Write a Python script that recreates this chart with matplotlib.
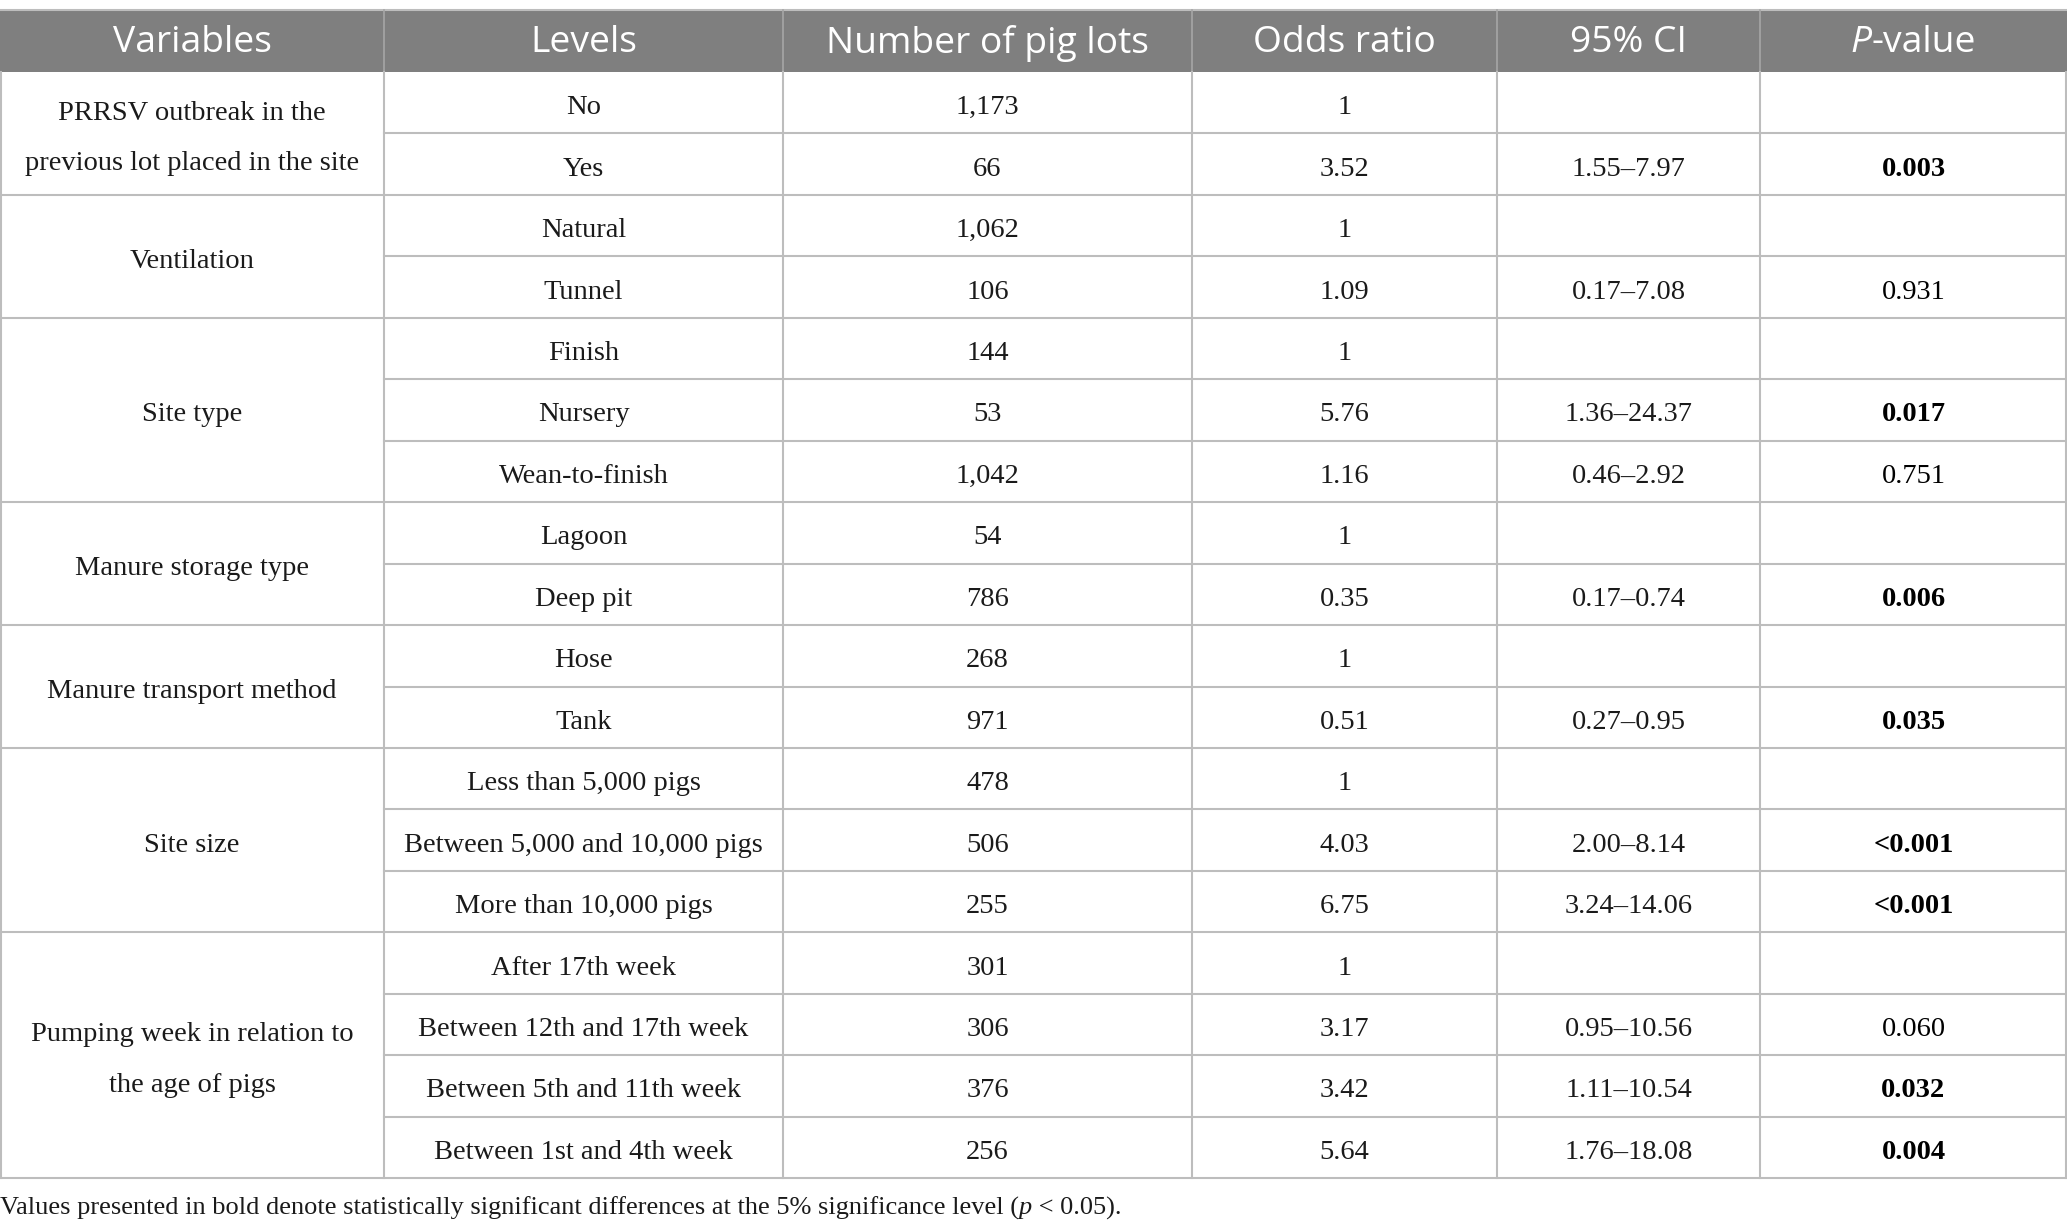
import matplotlib
matplotlib.use("Agg")
import matplotlib.pyplot as plt
from matplotlib.patches import Rectangle

W, H = 2067, 1230

HEADERS = ["Variables", "Levels", "Number of pig lots", "Odds ratio", "95% CI", "P-value"]

VARIABLES = [
    "PRRSV outbreak in the\nprevious lot placed in the site",
    "Ventilation",
    "Site type",
    "Manure storage type",
    "Manure transport method",
    "Site size",
    "Pumping week in relation to\nthe age of pigs",
]
GROUP_SIZES = [2, 2, 3, 2, 2, 3, 4]

LEVELS = [
    "No", "Yes",
    "Natural", "Tunnel",
    "Finish", "Nursery", "Wean-to-finish",
    "Lagoon", "Deep pit",
    "Hose", "Tank",
    "Less than 5,000 pigs", "Between 5,000 and 10,000 pigs", "More than 10,000 pigs",
    "After 17th week", "Between 12th and 17th week", "Between 5th and 11th week",
    "Between 1st and 4th week",
]
N_LOTS = ["1,173", "66", "1,062", "106", "144", "53", "1,042", "54", "786", "268", "971",
          "478", "506", "255", "301", "306", "376", "256"]
ODDS = ["1", "3.52", "1", "1.09", "1", "5.76", "1.16", "1", "0.35", "1", "0.51",
        "1", "4.03", "6.75", "1", "3.17", "3.42", "5.64"]
CI = ["", "1.55\u20137.97", "", "0.17\u20137.08", "", "1.36\u201324.37", "0.46\u20132.92",
      "", "0.17\u20130.74", "", "0.27\u20130.95", "", "2.00\u20138.14", "3.24\u201314.06",
      "", "0.95\u201310.56", "1.11\u201310.54", "1.76\u201318.08"]
PVAL = ["", "0.003", "", "0.931", "", "0.017", "0.751", "", "0.006", "", "0.035",
        "", "<0.001", "<0.001", "", "0.060", "0.032", "0.004"]
SIGNIF = [False, True, False, False, False, True, False, False, True, False, True,
          False, True, True, False, False, True, True]

FOOTNOTE = ("Values presented in bold denote statistically significant differences "
            "at the 5% significance level (", "p", " < 0.05).")

# layout in pixels
COL_X = [0, 384, 783, 1192, 1497, 1760, 2067]
HEAD_TOP, HEAD_BOT = 10, 72
ROW_H = 61.45
HEADER_BG = "#7f7f7f"
GRID = "#bdbdbd"
TEXT = "#1a1a1a"
SERIF = "Liberation Serif"
SANS = "Open Sans"
BODY_FS = 20.5
HEAD_FS = 26.8
DY = 5  # serif text sits a little low in its cell

fig = plt.figure(figsize=(W / 100, H / 100), dpi=100)
ax = fig.add_axes([0, 0, 1, 1])
ax.set_xlim(0, W)
ax.set_ylim(H, 0)
ax.axis("off")

renderer = fig.canvas.get_renderer()


def text_width(t):
    bb = t.get_window_extent(renderer=renderer)
    return bb.width


def mixed(x, y, parts, ha="center", **kw):
    # parts: list of (string, style)
    objs = []
    for s, style in parts:
        objs.append(ax.text(0, y, s, va="center", ha="left", style=style, **kw))
    widths = [text_width(o) for o in objs]
    total = sum(widths)
    start = x - total / 2 if ha == "center" else x
    for o, w in zip(objs, widths):
        o.set_x(start)
        start += w


# header
ax.add_patch(Rectangle((0, HEAD_TOP), W, HEAD_BOT - HEAD_TOP, facecolor=HEADER_BG,
                       edgecolor="none"))
ax.plot([0, W], [HEAD_TOP, HEAD_TOP], color=GRID, lw=1.5)
ymid = (HEAD_TOP + HEAD_BOT) / 2 + 2
for i, h in enumerate(HEADERS):
    xc = (COL_X[i] + COL_X[i + 1]) / 2
    if h == "P-value":
        mixed(xc, ymid, [("P", "italic"), ("-value", "normal")], color="white",
              fontsize=HEAD_FS, family=SANS)
    else:
        ax.text(xc, ymid, h, ha="center", va="center", color="white", fontsize=HEAD_FS,
                family=SANS)
for x in COL_X[1:-1]:
    ax.plot([x, x], [HEAD_TOP, HEAD_BOT], color="#a6a6a6", lw=1.2)

# body rows
n_rows = len(LEVELS)
body_bot = HEAD_BOT + n_rows * ROW_H
for r in range(n_rows):
    yc = HEAD_BOT + (r + 0.5) * ROW_H + DY
    vals = [LEVELS[r], N_LOTS[r], ODDS[r], CI[r]]
    for j, v in enumerate(vals):
        xc = (COL_X[j + 1] + COL_X[j + 2]) / 2
        ax.text(xc, yc, v, ha="center", va="center", fontsize=BODY_FS, family=SERIF,
                color=TEXT)
    xc = (COL_X[5] + COL_X[6]) / 2
    ax.text(xc, yc, PVAL[r], ha="center", va="center", fontsize=BODY_FS, family=SERIF,
            color="black", fontweight="bold" if SIGNIF[r] else "normal")

# horizontal lines: full-width at group boundaries, partial inside groups
r = 0
for g, size in zip(VARIABLES, GROUP_SIZES):
    y0 = HEAD_BOT + r * ROW_H
    y1 = HEAD_BOT + (r + size) * ROW_H
    ax.text(COL_X[1] / 2, (y0 + y1) / 2 + DY, g, ha="center", va="center",
            fontsize=BODY_FS, family=SERIF, color=TEXT, linespacing=2.35)
    ax.plot([0, W], [y1, y1], color=GRID, lw=1.5)
    for k in range(1, size):
        yk = HEAD_BOT + (r + k) * ROW_H
        ax.plot([COL_X[1], W], [yk, yk], color=GRID, lw=1.5)
    r += size

for x in COL_X:
    xx = min(max(x, 0.75), W - 0.75)
    ax.plot([xx, xx], [HEAD_BOT, body_bot], color=GRID, lw=1.5)

# footnote
mixed(0, 1208, [(FOOTNOTE[0], "normal"), (FOOTNOTE[1], "italic"), (FOOTNOTE[2], "normal")],
      ha="left", fontsize=19, family=SERIF, color=TEXT)

fig.savefig("out.png", dpi=100)
